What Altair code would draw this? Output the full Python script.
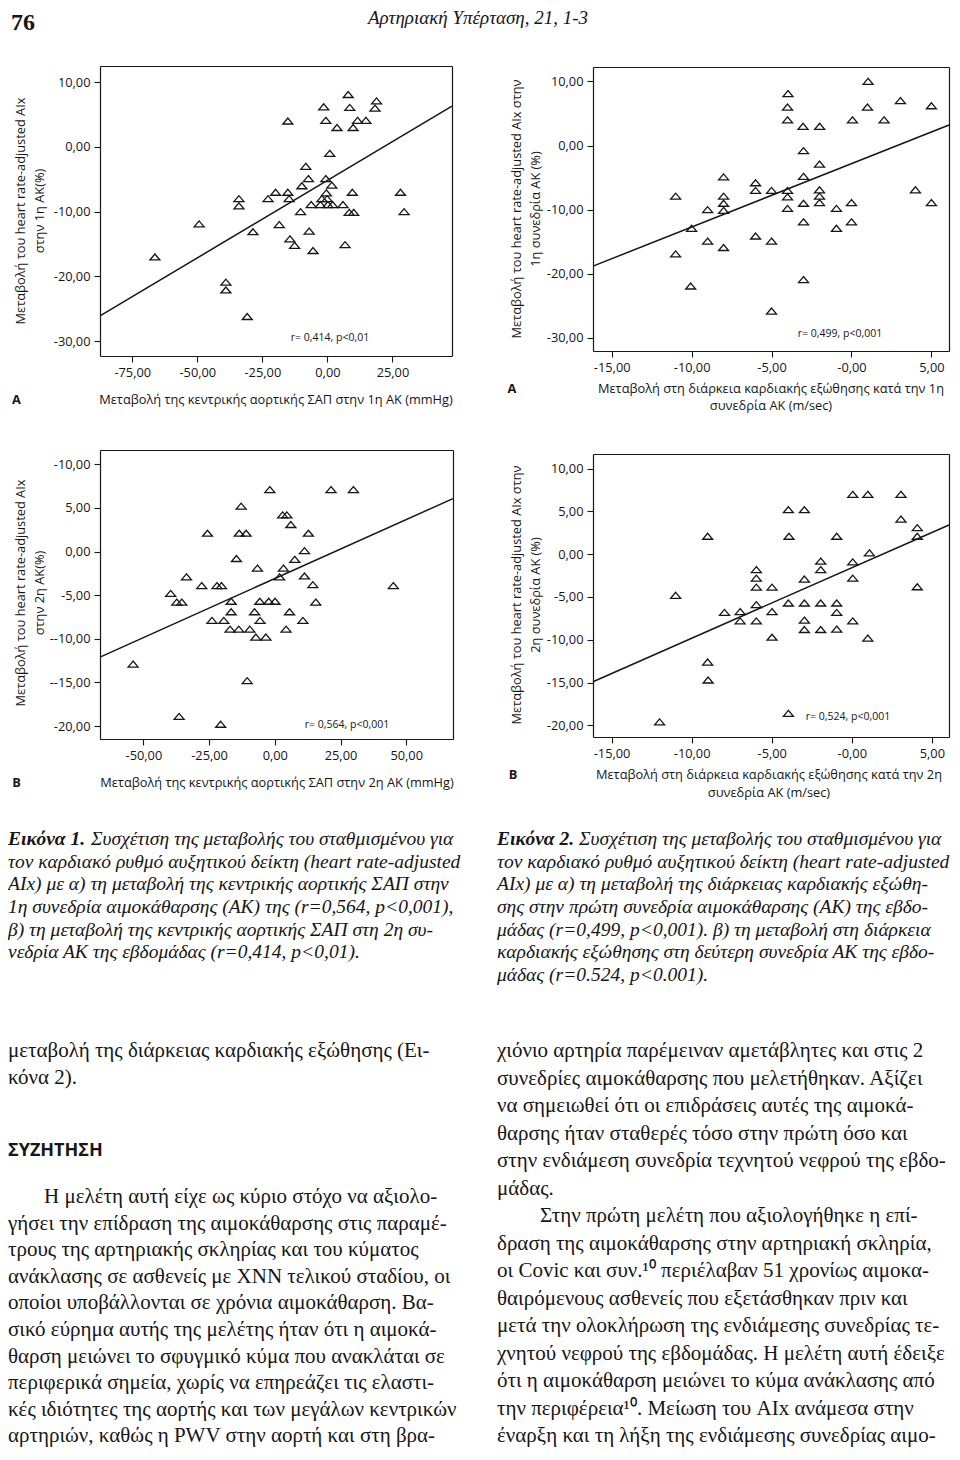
import json
import altair as alt
import pandas as pd

W, H, M = 944, 1444, 8
INK = "#161616"
SANS = "Open Sans"
SERIF = "Liberation Serif"
TRI = "M0,-0.6L-1,0.6L1,0.6Z"

# ---------------- data ----------------
A1_x = [-66.3, -49.3, -39.0, -39.0, -30.8, -34.0, -34.0, -28.6, -22.8, -19.9, -18.5, -15.2, -15.2, -14.7,
        -14.4, -12.6, -10.3, -9.8, -8.3, -7.3, -7.0, -6.2, -5.5, -2.7, -2.1, -1.4, -0.6, -0.6, -0.4, -0.1,
        0.2, 0.9, 1.7, 2.0, 3.7, 6.0, 6.8, 8.0, 8.6, 8.4, 9.6, 9.9, 10.1, 11.6, 14.8, 18.3, 18.9, 28.1, 29.5]
A1_y = [-17.0, -11.9, -20.9, -22.1, -26.2, -8.0, -9.1, -13.1, -8.0, -7.0, -12.0, 4.0, -7.0, -8.0,
        -14.2, -15.2, -10.0, -6.0, -3.0, -4.9, -13.0, -8.9, -16.0, -8.9, -8.0, 6.2, 4.1, -4.9, -7.1, -8.0,
        -8.9, -1.0, -5.9, -8.9, 3.0, -8.9, -15.1, 8.1, 6.1, -10.1, -7.0, 3.0, -10.1, 4.1, 4.1, 6.0, 7.1, -7.0, -10.0]
A1_line_x = [-87.4, 47.9]
A1_line_y = [-26.1, 6.3]

A2_x = [-11.0, -11.0, -10.06, -10.0, -9.0, -9.0, -8.0, -8.0, -8.0, -8.0, -8.0, -6.0, -6.0, -6.0, -5.0, -5.0,
        -5.0, -3.97, -4.0, -4.0, -4.0, -4.0, -4.0, -3.03, -3.0, -3.0, -3.0, -3.0, -3.0, -1.99, -2.0, -2.0,
        -2.0, -2.0, -0.94, -0.94, 0.06, 0.0, 0.0, 1.04, 1.0, 2.04, 3.06, 4.0, 5.0, 5.0]
A2_y = [-7.9, -16.9, -21.9, -12.9, -10.0, -14.9, -4.9, -7.9, -9.0, -10.1, -15.9, -5.8, -7.0, -14.1, -7.0, -14.9,
        -25.8, 8.1, 6.0, 4.0, -7.0, -8.0, -9.8, 3.0, -0.8, -4.8, -9.0, -11.9, -20.9, 3.0, -2.9, -6.9,
        -7.9, -8.9, -9.8, -12.9, 4.0, -8.9, -11.9, 10.0, 6.0, 4.0, 7.0, -6.9, 6.2, -8.9]
A2_line_x = [-16.17, 6.1]
A2_line_y = [-18.8, 3.2]

B1_x = [-53.9, -39.6, -37.3, -35.4, -36.4, -33.6, -27.8, -25.6, -23.9, -22.0, -20.3, -20.6, -19.4, -17.0,
        -16.6, -16.6, -14.6, -13.7, -13.5, -12.8, -10.9, -10.5, -9.5, -7.7, -7.2, -6.6, -5.6, -5.7, -3.4,
        -2.3, -1.9, 0.1, 1.8, 3.3, 3.0, 4.6, 4.3, 5.6, 6.1, 7.6, 10.7, 11.3, 11.3, 12.8, 14.5, 15.6, 21.4, 29.9, 45.1]
B1_y = [-12.9, -4.8, -5.8, -5.8, -18.9, -2.9, -3.9, 2.1, -7.9, -3.9, -3.9, -19.8, -7.9, -8.9,
        -5.7, -6.9, -0.8, -8.9, 2.1, 5.2, 2.1, -14.8, -8.9, -6.9, -9.8, -1.9, -7.9, -5.7, -9.8,
        -5.7, 7.1, -5.7, -2.9, -1.9, 4.2, 4.2, -8.9, -6.9, 3.1, -0.9, -7.9, 0.1, -2.8, 2.1, -3.8, -5.8, 7.1, 7.1, -3.9]
B1_line_x = [-66.5, 67.8]
B1_line_y = [-12.1, 6.07]

B2_x = [-12.0, -11.0, -9.0, -9.0, -8.97, -7.95, -6.97, -6.97, -5.96, -5.96, -5.96, -5.96, -5.96, -4.98, -4.98,
        -4.98, -3.96, -3.92, -3.96, -3.96, -2.96, -2.96, -2.96, -2.96, -2.96, -1.94, -1.94, -1.94, -1.94,
        -0.94, -0.94, -0.94, -0.94, 0.06, 0.06, 0.06, 0.06, 1.0, 1.1, 1.0, 3.07, 3.07, 4.09, 4.09, 4.09]
B2_y = [-19.6, -4.8, 2.1, -12.6, -14.7, -6.8, -6.7, -7.8, -1.8, -2.8, -3.85, -5.9, -7.8, -3.85, -6.7,
        -9.7, 5.2, 2.1, -5.7, -18.6, 5.2, -2.9, -5.7, -7.7, -8.8, -0.8, -1.8, -5.7, -8.8,
        2.1, -5.7, -6.8, -8.75, 7.0, -0.9, -2.8, -7.8, 7.0, 0.16, -9.8, 7.0, 4.1, 3.1, 2.1, -3.8]
B2_line_x = [-16.16, 6.07]
B2_line_y = [-14.9, 3.42]

# tick values and tick labels
SAP1_ticks = [-75, -50, -25, 0, 25]
SAP1_labels = ["-75,00", "-50,00", "-25,00", "0,00", "25,00"]
SAP2_ticks = [-50, -25, 0, 25, 50]
SAP2_labels = ["-50,00", "-25,00", "0,00", "25,00", "50,00"]
ET_ticks = [-15, -10, -5, 0, 5]
ET_labels = ["-15,00", "-10,00", "-5,00", "-0,00", "5,00"]
AIX10_ticks = [10, 0, -10, -20, -30]
AIX10_labels = ["10,00", "0,00", "-10,00", "-20,00", "-30,00"]
AIX5B1_ticks = [10, 5, 0, -5, -10, -15, -20]
AIX5B1_labels = ["-10,00", "5,00", "0,00", "-5,00", "--10,00", "--15,00", "-20,00"]
AIX5B2_ticks = [10, 5, 0, -5, -10, -15, -20]
AIX5B2_labels = ["10,00", "5,00", "0,00", "-5,00", "-10,00", "-15,00", "-20,00"]

# ---------------- texts ----------------
HEADER_NUM = "76"
HEADER_TITLE = "Αρτηριακή Υπέρταση, 21, 1-3"

YT_A1 = ["Μεταβολή του heart rate-adjusted AIx", "στην 1η ΑΚ(%)"]
YT_A2 = ["Μεταβολή του heart rate-adjusted AIx στην", "1η συνεδρία ΑΚ (%)"]
YT_B1 = ["Μεταβολή του heart rate-adjusted AIx", "στην 2η ΑΚ(%)"]
YT_B2 = ["Μεταβολή του heart rate-adjusted AIx στην", "2η συνεδρία ΑΚ (%)"]
XT_A1 = "Μεταβολή της κεντρικής αορτικής ΣΑΠ στην 1η ΑΚ (mmHg)"
XT_A2 = ["Μεταβολή στη διάρκεια καρδιακής εξώθησης κατά την 1η", "συνεδρία ΑΚ (m/sec)"]
XT_B1 = "Μεταβολή της κεντρικής αορτικής ΣΑΠ στην 2η ΑΚ (mmHg)"
XT_B2 = ["Μεταβολή στη διάρκεια καρδιακής εξώθησης κατά την 2η", "συνεδρία ΑΚ (m/sec)"]
R_A1 = "r= 0,414, p<0,01"
R_A2 = "r= 0,499, p<0,001"
R_B1 = "r= 0,564, p<0,001"
R_B2 = "r= 0,524, p<0,001"

CAP1_HEAD = "Εικόνα 1."
CAP1_FIRST = "Συσχέτιση της μεταβολής του σταθμισμένου για"
CAP1_REST = [
    "τον καρδιακό ρυθμό αυξητικού δείκτη (heart rate-adjusted",
    "AIx) με α) τη μεταβολή της κεντρικής αορτικής ΣΑΠ στην",
    "1η συνεδρία αιμοκάθαρσης (ΑΚ) της (r=0,564, p<0,001),",
    "β) τη μεταβολή της κεντρικής αορτικής ΣΑΠ στη 2η συ-",
    "νεδρία ΑΚ της εβδομάδας (r=0,414, p<0,01).",
]
CAP2_HEAD = "Εικόνα 2."
CAP2_FIRST = "Συσχέτιση της μεταβολής του σταθμισμένου για"
CAP2_REST = [
    "τον καρδιακό ρυθμό αυξητικού δείκτη (heart rate-adjusted",
    "AIx) με α) τη μεταβολή της διάρκειας καρδιακής εξώθη-",
    "σης στην πρώτη συνεδρία αιμοκάθαρσης (ΑΚ) της εβδο-",
    "μάδας (r=0,499, p<0,001). β) τη μεταβολή στη διάρκεια",
    "καρδιακής εξώθησης στη δεύτερη συνεδρία ΑΚ της εβδο-",
    "μάδας (r=0.524, p<0.001).",
]

LEFT_TOP = ["μεταβολή της διάρκειας καρδιακής εξώθησης (Ει-", "κόνα 2)."]
HEADING = "ΣΥΖΗΤΗΣΗ"
LEFT_PARA_FIRST = "Η μελέτη αυτή είχε ως κύριο στόχο να αξιολο-"
LEFT_PARA_REST = [
    "γήσει την επίδραση της αιμοκάθαρσης στις παραμέ-",
    "τρους της αρτηριακής σκληρίας και του κύματος",
    "ανάκλασης σε ασθενείς με ΧΝΝ τελικού σταδίου, οι",
    "οποίοι υποβάλλονται σε χρόνια αιμοκάθαρση. Βα-",
    "σικό εύρημα αυτής της μελέτης ήταν ότι η αιμοκά-",
    "θαρση μειώνει το σφυγμικό κύμα που ανακλάται σε",
    "περιφερικά σημεία, χωρίς να επηρεάζει τις ελαστι-",
    "κές ιδιότητες της αορτής και των μεγάλων κεντρικών",
    "αρτηριών, καθώς η PWV στην αορτή και στη βρα-",
]
RIGHT_A = [
    "χιόνιο αρτηρία παρέμειναν αμετάβλητες και στις 2",
    "συνεδρίες αιμοκάθαρσης που μελετήθηκαν. Αξίζει",
    "να σημειωθεί ότι οι επιδράσεις αυτές της αιμοκά-",
    "θαρσης ήταν σταθερές τόσο στην πρώτη όσο και",
    "στην ενδιάμεση συνεδρία τεχνητού νεφρού της εβδο-",
    "μάδας.",
]
RIGHT_PARA_FIRST = "Στην πρώτη μελέτη που αξιολογήθηκε η επί-"
RIGHT_B = [
    "δραση της αιμοκάθαρσης στην αρτηριακή σκληρία,",
    "οι Covic και συν.¹⁰ περιέλαβαν 51 χρονίως αιμοκα-",
    "θαιρόμενους ασθενείς που εξετάσθηκαν πριν και",
    "μετά την ολοκλήρωση της ενδιάμεσης συνεδρίας τε-",
    "χνητού νεφρού της εβδομάδας. Η μελέτη αυτή έδειξε",
    "ότι η αιμοκάθαρση μειώνει το κύμα ανάκλασης από",
    "την περιφέρεια¹⁰. Μείωση του AIx ανάμεσα στην",
    "έναρξη και τη λήξη της ενδιάμεσης συνεδρίας αιμο-",
]

ONE = pd.DataFrame({"k": [0]})


def lab(vals, labs):
    return f"{json.dumps(labs)}[indexof({json.dumps(vals)}, datum.value)]"


def panel(xs, ys, lx, ly, xdom, ydom, frame, xt, xl, yt, yl):
    L, T, R, B = [v - M for v in frame]
    pts = pd.DataFrame({"x": xs, "y": ys})
    ln = pd.DataFrame({"x": lx, "y": ly})
    sx = alt.Scale(domain=xdom, range=[L, R], nice=False, zero=False)
    sy = alt.Scale(domain=ydom, range=[B, T], nice=False, zero=False)
    p = alt.Chart(pts).mark_point(shape=TRI, size=100, filled=False, color=INK,
                                  strokeWidth=1.3, opacity=1).encode(
        x=alt.X("x:Q", scale=sx, axis=alt.Axis(orient="bottom", offset=B - H, values=xt,
                                               labelExpr=lab(xt, xl), title=None, grid=False)),
        y=alt.Y("y:Q", scale=sy, axis=alt.Axis(orient="left", offset=-L, values=yt,
                                               labelExpr=lab(yt, yl), title=None, grid=False)),
    )
    l = alt.Chart(ln).mark_line(color=INK, strokeWidth=1.5).encode(
        x=alt.X("x:Q", scale=sx, axis=alt.Axis(orient="top", offset=-T, labels=False, ticks=False,
                                               title=None, grid=False)),
        y=alt.Y("y:Q", scale=sy, axis=alt.Axis(orient="right", offset=R - W, labels=False, ticks=False,
                                               title=None, grid=False)),
    )
    return [p, l]


def txt(text, x, y, size=12.8, font=SANS, align="center", baseline="middle", angle=0,
        style="normal", weight="normal", lh=None):
    kw = dict(text=text, font=font, fontSize=size, align=align, baseline=baseline,
              fontStyle=style, fontWeight=weight, color=INK)
    if angle:
        kw["angle"] = angle
    if lh:
        kw["lineHeight"] = lh
    return alt.Chart(ONE).mark_text(**kw).encode(x=alt.value(x - M), y=alt.value(y - M))


layers = []
# panels (frames in page pixels: left, top, right, bottom)
layers += panel(A1_x, A1_y, A1_line_x, A1_line_y, [-87.4, 47.9], [-32.3, 12.5], (100, 66, 452, 356),
                SAP1_ticks, SAP1_labels, AIX10_ticks, AIX10_labels)
layers += panel(A2_x, A2_y, A2_line_x, A2_line_y, [-16.17, 6.1], [-32.03, 12.24], (593, 67, 949, 351),
                ET_ticks, ET_labels, AIX10_ticks, AIX10_labels)
layers += panel(B1_x, B1_y, B1_line_x, B1_line_y, [-66.5, 67.8], [-21.49, 11.64], (100, 450, 453, 739),
                SAP2_ticks, SAP2_labels, AIX5B1_ticks, AIX5B1_labels)
layers += panel(B2_x, B2_y, B2_line_x, B2_line_y, [-16.16, 6.07], [-21.36, 11.71], (593, 454, 949, 737),
                ET_ticks, ET_labels, AIX5B2_ticks, AIX5B2_labels)

# panel texts
layers += [
    txt(YT_A1[0], 20.5, 211, angle=270), txt(YT_A1[1], 40, 211, angle=270),
    txt(XT_A1, 276, 400), txt("A", 16.5, 400, weight="bold"),
    txt(R_A1, 330, 338, size=10.5),

    txt(YT_A2[0], 517, 209, angle=270), txt(YT_A2[1], 535.5, 209, angle=270),
    txt(XT_A2[0], 771, 388.5), txt(XT_A2[1], 771, 405.5), txt("A", 512, 388.5, weight="bold"),
    txt(R_A2, 840, 334, size=10.5),

    txt(YT_B1[0], 20.5, 593, angle=270), txt(YT_B1[1], 40, 593, angle=270),
    txt(XT_B1, 277, 783), txt("B", 16.5, 783, weight="bold"),
    txt(R_B1, 347, 724.5, size=10.5),

    txt(YT_B2[0], 517, 595, angle=270), txt(YT_B2[1], 535.5, 595, angle=270),
    txt(XT_B2[0], 769, 775), txt(XT_B2[1], 769, 792.5), txt("B", 513, 775, weight="bold"),
    txt(R_B2, 848, 716.5, size=10.5),
]

# header
layers += [
    txt(HEADER_NUM, 11, 23, size=24, font=SERIF, align="left", baseline="middle", weight="bold"),
    txt(HEADER_TITLE, 478, 24, size=19, font=SERIF, baseline="alphabetic", style="italic"),
]

# captions
CAP_Y0, CAP_LH, CAP_FS = 845, 22.7, 19.5
layers += [
    txt(CAP1_HEAD, 8, CAP_Y0, size=CAP_FS, font=SERIF, align="left", baseline="alphabetic",
        style="italic", weight="bold"),
    txt(CAP1_FIRST, 91, CAP_Y0, size=CAP_FS, font=SERIF, align="left", baseline="alphabetic", style="italic"),
    txt(CAP1_REST, 8, CAP_Y0 + CAP_LH, size=CAP_FS, font=SERIF, align="left", baseline="alphabetic",
        style="italic", lh=CAP_LH),
    txt(CAP2_HEAD, 497, CAP_Y0, size=CAP_FS, font=SERIF, align="left", baseline="alphabetic",
        style="italic", weight="bold"),
    txt(CAP2_FIRST, 579, CAP_Y0, size=CAP_FS, font=SERIF, align="left", baseline="alphabetic", style="italic"),
    txt(CAP2_REST, 497, CAP_Y0 + CAP_LH, size=CAP_FS, font=SERIF, align="left", baseline="alphabetic",
        style="italic", lh=CAP_LH),
]

# body text
BODY_FS = 21
LLH = 26.6
RLH = 27.5
layers += [
    txt(LEFT_TOP, 8, 1057, size=BODY_FS, font=SERIF, align="left", baseline="alphabetic", lh=27),
    txt(HEADING, 8, 1151, size=18, font=SANS, align="left", weight="bold"),
    txt(LEFT_PARA_FIRST, 44, 1203, size=BODY_FS, font=SERIF, align="left", baseline="alphabetic"),
    txt(LEFT_PARA_REST, 8, 1203 + LLH, size=BODY_FS, font=SERIF, align="left", baseline="alphabetic", lh=LLH),
    txt(RIGHT_A, 497, 1057, size=BODY_FS, font=SERIF, align="left", baseline="alphabetic", lh=RLH),
    txt(RIGHT_PARA_FIRST, 540, 1057 + 6 * RLH, size=BODY_FS, font=SERIF, align="left", baseline="alphabetic"),
    txt(RIGHT_B, 497, 1057 + 7 * RLH, size=BODY_FS, font=SERIF, align="left", baseline="alphabetic", lh=RLH),
]

chart = alt.layer(*layers).resolve_scale(x="independent", y="independent").properties(
    width=W, height=H, padding=0, autosize=alt.AutoSizeParams(type="none"),
    background="white",
).configure_view(stroke=None).configure_axis(
    labelFont=SANS, labelFontSize=12.8, labelColor=INK, tickColor=INK, domainColor=INK,
    tickSize=6, labelPadding=4, domainWidth=1.2, tickWidth=1.1, labelFlush=False,
    labelOverlap=False,
)

chart.save("out.html", embed_options={"renderer": "svg", "actions": False})
